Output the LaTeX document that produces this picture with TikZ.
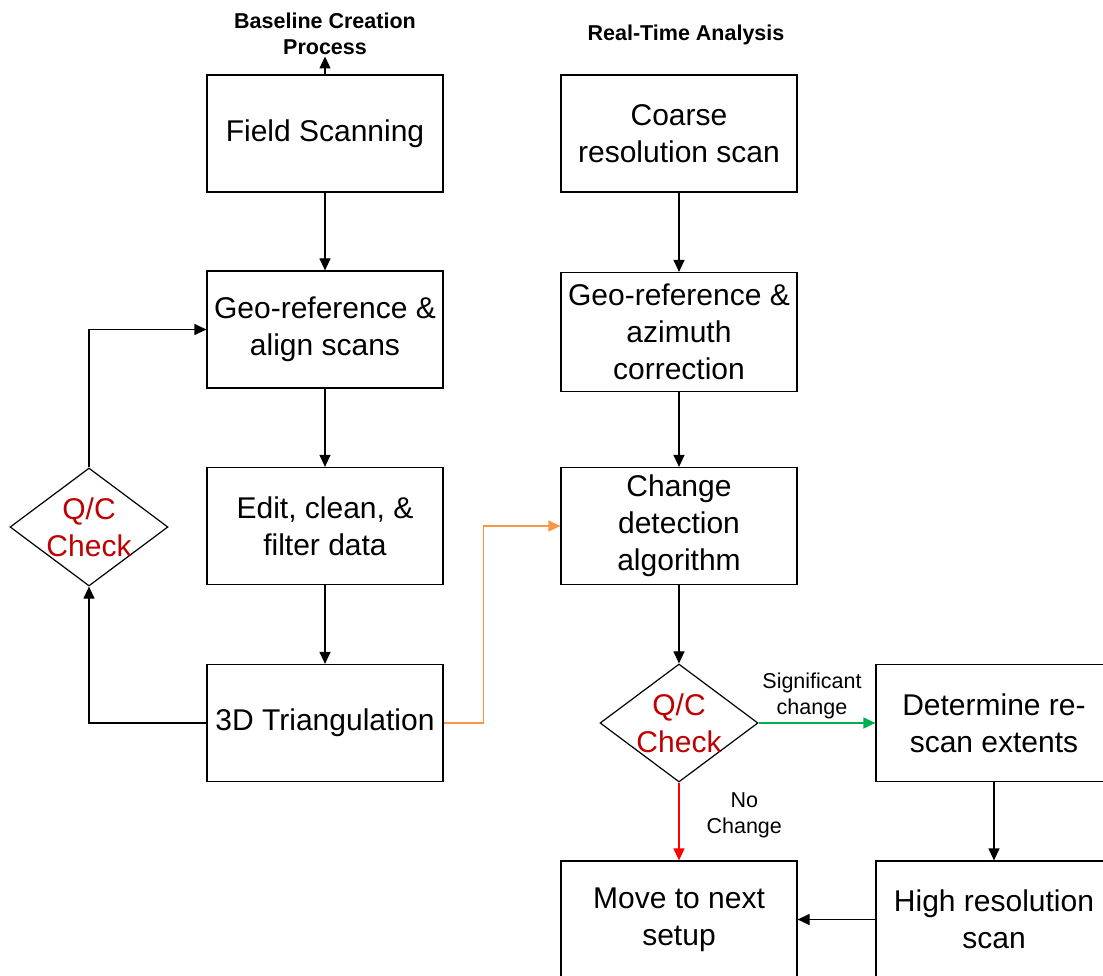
\documentclass[tikz,border=0pt]{standalone}
\usepackage{fontspec}
\setmainfont{Liberation Sans}
\usetikzlibrary{arrows.meta,shapes.geometric}
\definecolor{qcred}{HTML}{C00000}
\definecolor{lineorange}{HTML}{F79646}
\definecolor{linegreen}{HTML}{00B050}
\definecolor{linered}{HTML}{FF0000}
\newcommand{\boxFont}[0]{\fontsize{30}{37}\selectfont}
\newcommand{\labelFont}[0]{\fontsize{21.5}{26}\selectfont}

\begin{document}
\begin{tikzpicture}[x=1pt, y=-1pt, line width=1.2pt]
  \tikzset{
    stepbox/.style={draw, rectangle, minimum width=236pt, minimum height=117pt,
      align=center, inner sep=2pt, font=\boxFont},
    qcdiamond/.style={draw, diamond, minimum width=158pt, minimum height=118pt,
      inner sep=0pt},
    colhead/.style={align=center, font=\labelFont\bfseries, inner sep=1pt},
    edgelabel/.style={align=center, font=\labelFont, inner sep=3pt},
    flow/.style={-{Triangle[length=12pt,width=11pt]}}
  }
  \useasboundingbox (0,0) rectangle (1103,976);
  % column headings
  \node[colhead] (head-1) at (325,34) {Baseline Creation\\Process};
  \node[colhead] (head-2) at (686,35) {Real-Time Analysis};
  % baseline creation
  \node[stepbox] (field) at (325,133.5) {Field Scanning};
  \node[stepbox] (georef) at (325,329.5) {Geo-reference \&\\align scans};
  \node[stepbox] (edit) at (325,526) {Edit, clean, \&\\filter data};
  \node[stepbox] (tri) at (325,723) {3D Triangulation};
  \node[qcdiamond, label={[align=center, text=qcred, font=\boxFont]center:Q/C\\Check}]
    (qc-1) at (89,527) {};
  % real-time analysis
  \node[stepbox] (coarse) at (679,133.5) {Coarse\\resolution scan};
  \node[stepbox, minimum height=119pt] (geoaz) at (679,332) {Geo-reference \&\\azimuth\\correction};
  \node[stepbox] (change) at (679,526) {Change\\detection\\algorithm};
  \node[qcdiamond, label={[align=center, text=qcred, font=\boxFont]center:Q/C\\Check}]
    (qc-2) at (679,723) {};
  \node[stepbox] (rescan) at (994,723) {Determine re-\\scan extents};
  \node[stepbox] (move) at (679,919.5) {Move to next\\setup};
  \node[stepbox] (high) at (994,919.5) {High resolution\\scan};

  \draw[flow] (field.north) -- (head-1.south);
  \draw[flow] (field) -- (georef);
  \draw[flow] (georef) -- (edit);
  \draw[flow] (edit) -- (tri);
  \draw[flow] (tri.west) -| (qc-1.south);
  \draw[flow] (qc-1.north) |- (georef.west);
  \draw[flow, lineorange] (tri.east) -- ++(40,0) |- (change.west);
  \draw[flow] (coarse) -- (geoaz);
  \draw[flow] (geoaz) -- (change);
  \draw[flow] (change) -- (qc-2);
  \draw[flow, linegreen] (qc-2.east) --
    node[edgelabel, above, xshift=-5pt, text=black] {Significant\\change} (rescan.west);
  \draw[flow, linered] (qc-2.south) --
    node[edgelabel, right, xshift=24pt, yshift=6pt, text=black] {No\\Change} (move.north);
  \draw[flow] (rescan) -- (high);
  \draw[flow] (high.west) -- (move.east);
\end{tikzpicture}
\end{document}
